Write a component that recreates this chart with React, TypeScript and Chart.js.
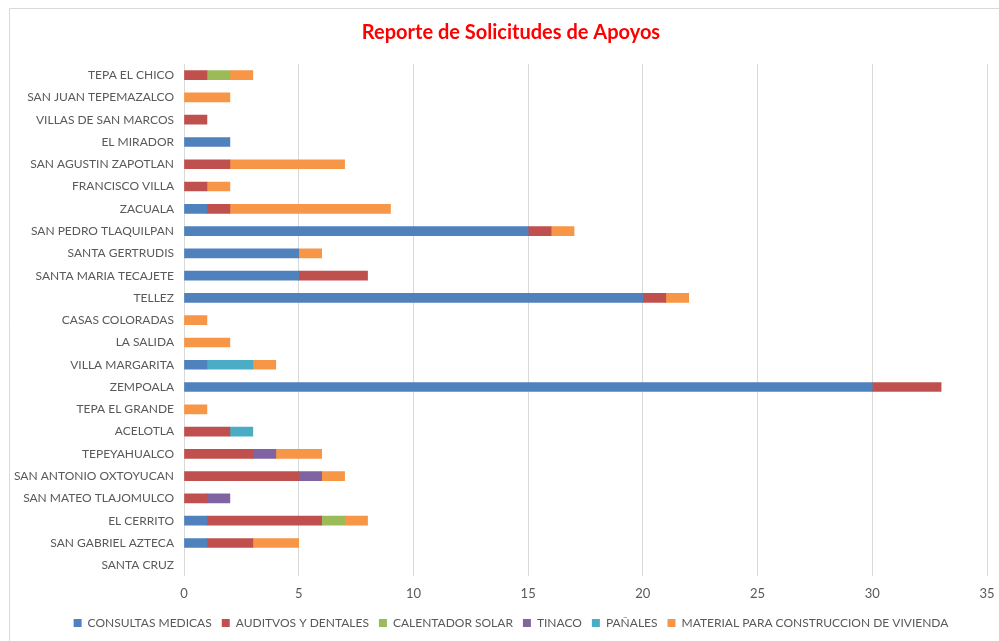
import React, { useEffect, useRef } from "react";
import { Chart, registerables } from "chart.js";

Chart.register(...registerables);

const categories = [
  "TEPA EL CHICO",
  "SAN JUAN TEPEMAZALCO",
  "VILLAS DE SAN MARCOS",
  "EL MIRADOR",
  "SAN AGUSTIN ZAPOTLAN",
  "FRANCISCO VILLA",
  "ZACUALA",
  "SAN PEDRO TLAQUILPAN",
  "SANTA GERTRUDIS",
  "SANTA MARIA TECAJETE",
  "TELLEZ",
  "CASAS COLORADAS",
  "LA SALIDA",
  "VILLA MARGARITA",
  "ZEMPOALA",
  "TEPA EL GRANDE",
  "ACELOTLA",
  "TEPEYAHUALCO",
  "SAN ANTONIO OXTOYUCAN",
  "SAN MATEO TLAJOMULCO",
  "EL CERRITO",
  "SAN GABRIEL AZTECA",
  "SANTA CRUZ",
];

const consultasMedicas = [0, 0, 0, 2, 0, 0, 1, 15, 5, 5, 20, 0, 0, 1, 30, 0, 0, 0, 0, 0, 1, 1, 0];
const auditivosDentales = [1, 0, 1, 0, 2, 1, 1, 1, 0, 3, 1, 0, 0, 0, 3, 0, 2, 3, 5, 1, 5, 2, 0];
const calentadorSolar = [1, 0, 0, 0, 0, 0, 0, 0, 0, 0, 0, 0, 0, 0, 0, 0, 0, 0, 0, 0, 1, 0, 0];
const tinaco = [0, 0, 0, 0, 0, 0, 0, 0, 0, 0, 0, 0, 0, 0, 0, 0, 0, 1, 1, 1, 0, 0, 0];
const panales = [0, 0, 0, 0, 0, 0, 0, 0, 0, 0, 0, 0, 0, 2, 0, 0, 1, 0, 0, 0, 0, 0, 0];
const materialVivienda = [1, 2, 0, 0, 5, 1, 7, 1, 1, 0, 1, 1, 2, 1, 0, 1, 0, 2, 1, 0, 1, 2, 0];

const seriesNames = [
  "CONSULTAS MEDICAS",
  "AUDITVOS Y DENTALES",
  "CALENTADOR SOLAR",
  "TINACO",
  "PAÑALES",
  "MATERIAL PARA CONSTRUCCION DE VIVIENDA",
];
const seriesValues = [consultasMedicas, auditivosDentales, calentadorSolar, tinaco, panales, materialVivienda];
const seriesColors = ["#4F81BD", "#C0504D", "#9BBB59", "#8064A2", "#4BACC6", "#F79646"];

const xMin = 0;
const xMax = 35;
const xStep = 5;

const FONT = "Lato, 'Open Sans', sans-serif";
const CANVAS_W = 1022;
const CANVAS_H = 641;
const SIDE_PAD = CANVAS_W - 987;

const framePlugin = {
  id: "frame",
  beforeDraw(chart: any) {
    const ctx = chart.ctx;
    ctx.save();
    ctx.fillStyle = "#ffffff";
    ctx.fillRect(0, 0, chart.width, chart.height);
    ctx.strokeStyle = "#d9d9d9";
    ctx.lineWidth = 1;
    ctx.beginPath();
    ctx.moveTo(9.5, chart.height + 5);
    ctx.lineTo(9.5, 8.5);
    ctx.lineTo(chart.width + 5, 8.5);
    ctx.stroke();
    ctx.restore();
  },
};

export default function App() {
  const ref = useRef<HTMLCanvasElement>(null);
  useEffect(() => {
    if (!ref.current) return;
    const chart = new Chart(ref.current, {
      type: "bar",
      data: {
        labels: categories,
        datasets: seriesNames.map((name, i) => ({
          label: name,
          data: seriesValues[i].map((v) => (v === 0 ? null : v)),
          backgroundColor: seriesColors[i],
          borderWidth: 0,
          barThickness: 9,
        })),
      },
      options: {
        indexAxis: "y",
        animation: false,
        responsive: false,
        maintainAspectRatio: false,
        layout: { padding: { top: 21, right: SIDE_PAD, bottom: 2, left: SIDE_PAD } },
        plugins: {
          title: {
            display: true,
            text: "Reporte de Solicitudes de Apoyos",
            color: "#FF0000",
            font: { family: FONT, size: 20, weight: "bold" },
            padding: { top: 0, bottom: 19 },
          },
          legend: {
            position: "bottom",
            labels: {
              boxWidth: 8,
              boxHeight: 8,
              color: "#595959",
              font: { family: FONT, size: 12 },
              padding: 10,
            },
          },
          tooltip: { enabled: false },
        },
        scales: {
          x: {
            stacked: true,
            min: xMin,
            max: xMax,
            ticks: { stepSize: xStep, color: "#595959", font: { family: FONT, size: 13 }, padding: 10 },
            grid: { color: "#d9d9d9", drawTicks: false },
            border: { display: false },
            afterFit(scale: any) {
              scale.height -= 5;
            },
          },
          y: {
            stacked: true,
            ticks: { color: "#595959", font: { family: FONT, size: 12 }, padding: 2, autoSkip: false },
            grid: { display: false },
            border: { display: false },
            afterFit(scale: any) {
              scale.width = 184 - SIDE_PAD;
              // let the category labels extend into the side padding
              scale._computeLabelArea = () => undefined;
            },
          },
        },
      },
      plugins: [framePlugin],
    });
    return () => chart.destroy();
  }, []);
  return (
    <div style={{ position: "fixed", left: 0, top: 0, width: 999, height: 641, overflow: "hidden" }}>
      <canvas
        ref={ref}
        width={CANVAS_W}
        height={CANVAS_H}
        style={{ display: "block", width: CANVAS_W, height: CANVAS_H }}
      />
    </div>
  );
}
